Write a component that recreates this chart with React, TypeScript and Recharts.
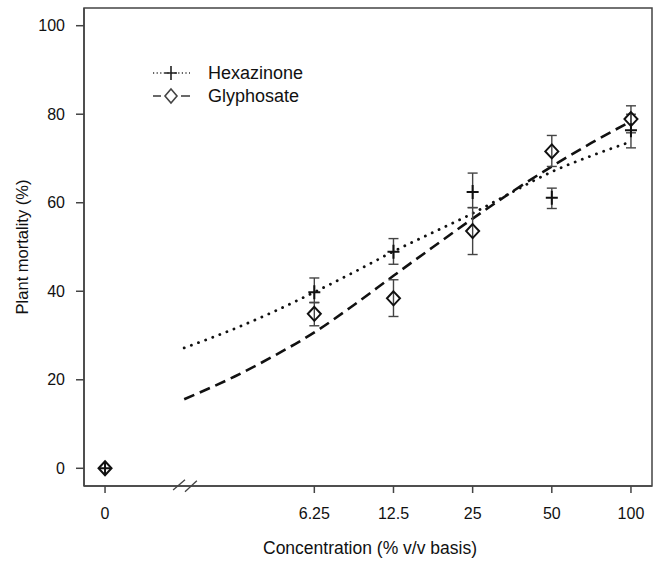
import React from 'react';
import { ComposedChart, Line, Scatter, XAxis, YAxis, ErrorBar, ReferenceLine, ReferenceArea } from 'recharts';

const FONT = '"Liberation Sans", Arial, Helvetica, sans-serif';

// ---- axis ticks ----
const tickConcs = [0, 6.25, 12.5, 25, 50, 100];
const tickLabels = ['0', '6.25', '12.5', '25', '50', '100'];
const yTicks = [0, 20, 40, 60, 80, 100];

// ---- observed means with error-bar bounds ----
const obsConc = [6.25, 12.5, 25, 50, 100];
const hexMean = [39.8, 48.9, 62.4, 61.1, 76.4];
const hexLow = [37.4, 46.1, 58.9, 58.7, 72.4];
const hexHigh = [43.0, 51.9, 66.7, 63.3, 80.0];
const glyMean = [34.9, 38.4, 53.6, 71.6, 78.9];
const glyLow = [32.2, 34.3, 48.3, 68.2, 75.8];
const glyHigh = [37.5, 42.6, 58.9, 75.2, 81.9];

// ---- untreated control ----
const controlConc = [0];
const hexControl = [0];
const glyControl = [0];

// ---- fitted curves ----
const curveConc = [2, 3.125, 4.42, 6.25, 8.84, 12.5, 17.68, 25, 35.36, 50, 70.71, 100];
const hexCurve = [27.2, 31.6, 35.5, 39.8, 44.3, 49.0, 53.3, 57.6, 62.4, 67.0, 70.6, 73.8];
const glyCurve = [15.6, 20.8, 25.5, 30.7, 36.9, 43.5, 50.0, 56.4, 62.5, 68.2, 73.5, 78.4];

// axis break location (concentration)
const breakConc = 2;

// position on the log2 axis; the control (0) is drawn where 1 would be
const pos = (c: number) => (c === 0 ? 0 : Math.log2(c));

const xMin = 0;
const xMax = Math.log2(100);
const xPad = 0.04 * (xMax - xMin);
const xDomain = [xMin - xPad, xMax + xPad];
const yDomain = [-4, 104];

const W = 659;
const H = 561;
const MARGIN = { top: 8, right: 7, left: 0, bottom: 0 };
const Y_AXIS_W = 84;
const X_AXIS_H = 75;

const obsRows = (means: number[], lows: number[], highs: number[]) =>
  obsConc.map((c, i) => ({ pos: pos(c), y: means[i], err: [means[i] - lows[i], highs[i] - means[i]] }));
const ctrlRows = (vals: number[]) => controlConc.map((c, i) => ({ pos: pos(c), y: vals[i] }));
const curveRows = (vals: number[]) => curveConc.map((c, i) => ({ pos: pos(c), y: vals[i] }));

const hexObs = obsRows(hexMean, hexLow, hexHigh);
const glyObs = obsRows(glyMean, glyLow, glyHigh);
const hexCtrl = ctrlRows(hexControl);
const glyCtrl = ctrlRows(glyControl);
const hexLine = curveRows(hexCurve);
const glyLine = curveRows(glyCurve);

const INK = '#111';
const BOX = '#444';

const PlusShape = (props: any) => {
  const { cx, cy } = props;
  if (cx == null || cy == null) return null;
  return (
    <path
      d={`M${cx - 6},${cy}H${cx + 6}M${cx},${cy - 7}V${cy + 7}`}
      stroke={INK}
      strokeWidth={2}
      fill="none"
    />
  );
};

const DiamondShape = (props: any) => {
  const { cx, cy } = props;
  if (cx == null || cy == null) return null;
  return (
    <path
      d={`M${cx},${cy - 7}L${cx + 6.5},${cy}L${cx},${cy + 7}L${cx - 6.5},${cy}Z`}
      stroke={INK}
      strokeWidth={2}
      fill="none"
    />
  );
};

const tickStyle = { fontSize: 16, fill: INK, fontFamily: FONT };

const YTitle = (props: any) => {
  const vb = props.viewBox || { x: 0, y: MARGIN.top, width: Y_AXIS_W, height: H - MARGIN.top - X_AXIS_H };
  const x = vb.x + 22;
  const y = vb.y + vb.height / 2;
  return (
    <text
      x={x}
      y={y}
      transform={`rotate(-90, ${x}, ${y})`}
      textAnchor="middle"
      dominantBaseline="central"
      fontSize={16.5}
      fontFamily={FONT}
      fill={INK}
    >
      Plant mortality (%)
    </text>
  );
};

const XTitle = (props: any) => {
  const vb = props.viewBox || { x: Y_AXIS_W, y: H - X_AXIS_H, width: W - Y_AXIS_W - MARGIN.right, height: X_AXIS_H };
  return (
    <text
      x={vb.x + vb.width / 2 + 2}
      y={vb.y + 68}
      textAnchor="middle"
      fontSize={17.5}
      fontFamily={FONT}
      fill={INK}
    >
      Concentration (% v/v basis)
    </text>
  );
};

const legendItems = [
  { name: 'Hexazinone', kind: 'hex' },
  { name: 'Glyphosate', kind: 'gly' },
];

const LegendOverlay = () => (
  <svg
    width={W}
    height={H}
    style={{ position: 'absolute', left: 0, top: 0, pointerEvents: 'none' }}
  >
    {legendItems.map((it, i) => {
      const cy = 73 + i * 23;
      return (
        <g key={it.name}>
          {it.kind === 'hex' ? (
            <>
              <line x1={153} y1={cy} x2={190} y2={cy} stroke="#333" strokeWidth={1.4} strokeDasharray="1.2 2.4" />
              <path d={`M${165},${cy}H${177}M${171},${cy - 7}V${cy + 7}`} stroke="#222" strokeWidth={1.6} fill="none" />
            </>
          ) : (
            <>
              <line x1={153} y1={cy} x2={161} y2={cy} stroke="#444" strokeWidth={1.6} />
              <line x1={181} y1={cy} x2={190} y2={cy} stroke="#444" strokeWidth={1.6} />
              <path
                d={`M171,${cy - 7}L${177},${cy}L171,${cy + 7}L${165},${cy}Z`}
                stroke="#444"
                strokeWidth={1.6}
                fill="#fff"
              />
            </>
          )}
          <text x={208} y={cy} dominantBaseline="central" fontSize={18} fontFamily={FONT} fill={INK}>
            {it.name}
          </text>
        </g>
      );
    })}
  </svg>
);

const breakPos = pos(breakConc);

export default function App() {
  return (
    <div style={{ position: 'absolute', left: 0, top: 0, width: W, height: H, background: '#fff' }}>
      <ComposedChart width={W} height={H} margin={MARGIN}>
        <XAxis
          xAxisId="x"
          dataKey="pos"
          type="number"
          domain={xDomain}
          allowDataOverflow
          ticks={tickConcs.map(pos)}
          tickFormatter={(v: number) => {
            const i = tickConcs.findIndex((c) => Math.abs(pos(c) - v) < 1e-6);
            return i >= 0 ? tickLabels[i] : '';
          }}
          height={X_AXIS_H}
          tickSize={7}
          tickMargin={15}
          tick={tickStyle}
          tickLine={{ stroke: BOX, strokeWidth: 1.5 }}
          axisLine={{ stroke: BOX, strokeWidth: 1.5 }}
          interval={0}
          label={{ content: XTitle }}
        />
        <YAxis
          yAxisId="y"
          type="number"
          domain={yDomain}
          allowDataOverflow
          ticks={yTicks}
          width={Y_AXIS_W}
          tickSize={8}
          tickMargin={11}
          tick={tickStyle}
          tickLine={{ stroke: BOX, strokeWidth: 1.5 }}
          axisLine={{ stroke: BOX, strokeWidth: 1.5 }}
          interval={0}
          label={{ content: YTitle }}
        />

        {/* plot box */}
        <ReferenceArea
          xAxisId="x"
          yAxisId="y"
          x1={xDomain[0]}
          x2={xDomain[1]}
          y1={yDomain[0]}
          y2={yDomain[1]}
          ifOverflow="visible"
          fill="none"
          fillOpacity={0}
          stroke={BOX}
          strokeWidth={1.5}
          strokeOpacity={1}
        />

        <ReferenceLine
          xAxisId="x"
          yAxisId="y"
          ifOverflow="visible"
          segment={[
            { x: breakPos - 0.14, y: -4.9 },
            { x: breakPos + 0.01, y: -2.6 },
          ]}
          stroke={BOX}
          strokeWidth={1.3}
        />
        <ReferenceLine
          xAxisId="x"
          yAxisId="y"
          ifOverflow="visible"
          segment={[
            { x: breakPos + 0.01, y: -5.3 },
            { x: breakPos + 0.16, y: -2.8 },
          ]}
          stroke={BOX}
          strokeWidth={1.3}
        />

        <Line
          xAxisId="x"
          yAxisId="y"
          data={hexLine}
          dataKey="y"
          type="monotone"
          stroke={INK}
          strokeWidth={2.8}
          strokeDasharray="0.1 7.5"
          strokeLinecap="round"
          dot={false}
          activeDot={false}
          isAnimationActive={false}
        />
        <Line
          xAxisId="x"
          yAxisId="y"
          data={glyLine}
          dataKey="y"
          type="monotone"
          stroke={INK}
          strokeWidth={2.6}
          strokeDasharray="11 6"
          dot={false}
          activeDot={false}
          isAnimationActive={false}
        />

        <Scatter xAxisId="x" yAxisId="y" data={hexObs} dataKey="y" shape={PlusShape} isAnimationActive={false}>
          <ErrorBar dataKey="err" direction="y" width={5} stroke={BOX} strokeWidth={1.4} />
        </Scatter>
        <Scatter xAxisId="x" yAxisId="y" data={glyObs} dataKey="y" shape={DiamondShape} isAnimationActive={false}>
          <ErrorBar dataKey="err" direction="y" width={5} stroke={BOX} strokeWidth={1.4} />
        </Scatter>
        <Scatter xAxisId="x" yAxisId="y" data={hexCtrl} dataKey="y" shape={PlusShape} isAnimationActive={false} />
        <Scatter xAxisId="x" yAxisId="y" data={glyCtrl} dataKey="y" shape={DiamondShape} isAnimationActive={false} />
      </ComposedChart>
      <LegendOverlay />
    </div>
  );
}
